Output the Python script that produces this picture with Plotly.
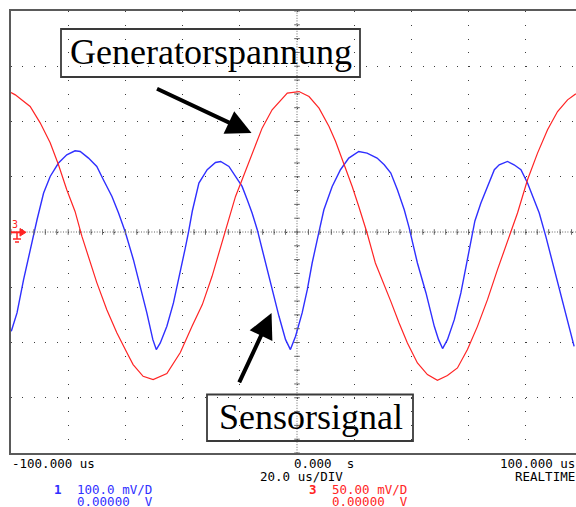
import plotly.graph_objects as go

# ---------------- data ----------------
time_red_us = [-100, -98.5, -93.3, -89.8, -86.3, -83.4, -80.5, -77.6, -75.2, -72.3,
               -70.0, -66.5, -63.0, -59.5, -57.3, -53.8, -50.3, -45.5, -40.8, -36.7,
               -33.1, -29.7, -25.0, -21.5, -19.2, -15.7, -12.2, -8.7, -3.4, 0.7,
               4.2, 7.7, 11.2, 13.5, 16.4, 19.3, 21.6, 24.5, 27.4, 30.4,
               32.8, 35.7, 38.6, 42.1, 45.6, 49.1, 52.6, 56.1, 59.6, 63.1,
               66.6, 70.1, 73.0, 75.3, 77.1, 80.6, 84.1, 87.6, 91.1, 94.6, 97.5]
generator_mv = [126.2, 124.1, 113.6, 98.8, 80.7, 60.9, 38.2, 18.6, -4.0, -27.8,
                -45.8, -70.3, -91.1, -109.1, -120.0, -130.6, -133.6, -128.1, -109.1, -85.4,
                -65.7, -40.1, 2.1, 32.2, 47.3, 71.4, 94.0, 110.6, 125.7, 127.1,
                122.6, 112.1, 95.5, 81.9, 62.4, 41.2, 23.1, -0.9, -28.0, -46.7,
                -62.8, -82.3, -100.4, -118.5, -129.0, -134.2, -129.9, -123.0, -106.4, -85.4,
                -61.2, -34.1, -13.0, 2.1, 17.2, 47.3, 71.4, 92.5, 109.0, 119.6, 125.1]

time_blue_us = [-99.9, -97.9, -95.6, -93.3, -90.9, -88.6, -86.3, -83.4, -80.5, -77.6,
                -75.8, -72.9, -70.0, -67.7, -64.7, -62.4, -60.1, -57.2, -54.8, -52.5,
                -50.4, -49.2, -47.8, -45.5, -43.2, -40.8, -39.1, -37.9, -36.6, -34.3,
                -31.4, -28.5, -26.7, -23.8, -21.5, -19.2, -17.4, -15.7, -13.9, -11.6,
                -8.7, -6.3, -4.0, -2.3, -0.5, 1.8, 3.6, 5.3, 7.7, 9.4,
                12.3, 15.2, 18.1, 21.6, 24.5, 28.0, 30.5, 32.8, 35.1, 37.5,
                39.2, 42.1, 45.1, 48.0, 49.5, 50.9, 52.6, 55.0, 57.3, 59.6,
                61.4, 62.2, 64.3, 66.6, 69.0, 70.7, 73.6, 75.9, 78.3, 80.6,
                82.9, 84.7, 87.0, 88.8, 91.1, 93.4, 95.2, 96.9]
sensor_mv = [-179.7, -146.5, -86.3, -32.0, 22.2, 70.5, 100.5, 124.8, 139.8, 147.0,
             145.8, 133.8, 118.6, 94.6, 64.4, 34.4, 1.0, -50.1, -98.4, -146.5,
             -194.8, -212.8, -200.7, -170.7, -128.4, -74.1, -30.0, 0.5, 38.0, 88.6,
             112.7, 125.9, 127.7, 118.6, 100.5, 82.5, 58.4, 34.4, 4.2, -44.1,
             -104.3, -152.6, -194.8, -212.8, -188.8, -146.5, -104.3, -56.1, 0.5, 40.3,
             82.5, 112.7, 133.8, 145.8, 142.9, 133.8, 121.7, 106.7, 76.5, 40.3,
             7.8, -56.1, -110.3, -170.7, -194.8, -211.0, -194.8, -158.6, -110.3, -50.1,
             0.5, 20.0, 52.4, 82.5, 112.7, 121.7, 127.7, 121.7, 112.7, 88.6,
             58.4, 34.4, -8.0, -44.1, -92.2, -134.5, -170.7, -206.9]

# scope settings (text shown under the screen)
time_left_label = "-100.000 us"
time_center_label = "0.000  s"
time_right_label = "100.000 us"
timebase_label = "20.0 us/DIV"
mode_label = "REALTIME"
ch1_scale_label = "100.0 mV/D"
ch3_scale_label = "50.00 mV/D"
offset_label = "0.00000  V"

# ---------------- layout geometry ----------------
W, H = 576, 507
L, T, R, B = 11, 11, 0, 54
PW, PH = W - L - R, H - T - B
DIV_PX = 57.2
X_MIN = -100.0
X_MAX = X_MIN + PW / DIV_PX * 20.0


def fx(px):
    return (px - L) / PW


def fy(py):
    return (H - B - py) / PH


BLUE = "#2f2fff"
RED = "#ff2424"
GRID = "#3c3c3c"
FRAME = "#5a5a5a"

fig = go.Figure()
fig.add_trace(go.Scatter(x=time_blue_us, y=sensor_mv, mode="lines",
                         line=dict(color=BLUE, width=1.4), yaxis="y", showlegend=False,
                         hoverinfo="skip"))
fig.add_trace(go.Scatter(x=time_red_us, y=generator_mv, mode="lines",
                         line=dict(color=RED, width=1.2), yaxis="y2", showlegend=False,
                         hoverinfo="skip"))

sub_x = DIV_PX / 5.0
sub_y = PH / 32.0

fig.update_layout(
    width=W, height=H,
    margin=dict(l=L, r=R, t=T, b=B, pad=0),
    paper_bgcolor="white", plot_bgcolor="white",
    showlegend=False,
    xaxis=dict(range=[X_MIN, X_MAX], dtick=20, tick0=0, showticklabels=False, ticks="",
               showgrid=True, gridcolor=GRID, gridwidth=1,
               griddash="1px,%.2fpx" % (sub_y - 1),
               zeroline=False, showline=True, mirror=True, linecolor=FRAME, linewidth=2),
    yaxis=dict(range=[-400, 400], dtick=100, tick0=0, showticklabels=False, ticks="",
               showgrid=True, gridcolor=GRID, gridwidth=1,
               griddash="1px,%.2fpx" % (sub_x - 1),
               zeroline=False, showline=True, linecolor=FRAME, linewidth=2),
    yaxis2=dict(range=[-200, 200], overlaying="y", showgrid=False, showticklabels=False,
                zeroline=False, ticks=""),
)

shapes = []
# center cross-hair (denser dots)
shapes.append(dict(type="line", xref="x", yref="paper", x0=0, x1=0, y0=0, y1=1,
                   line=dict(color="#666", width=1, dash="1px,1.6px"), layer="below"))
shapes.append(dict(type="line", xref="paper", yref="y", x0=0, x1=1, y0=0, y1=0,
                   line=dict(color="#666", width=1, dash="1px,1.6px"), layer="below"))

# annotation boxes
shapes.append(dict(type="rect", xref="paper", yref="paper",
                   x0=fx(61), x1=fx(360), y0=fy(29), y1=fy(77),
                   line=dict(color="#3a3a3a", width=1.8)))
shapes.append(dict(type="rect", xref="paper", yref="paper",
                   x0=fx(207), x1=fx(413), y0=fy(394.5), y1=fy(441),
                   line=dict(color="#3a3a3a", width=1.8)))

# channel / ground marker at the left edge
shapes.append(dict(type="line", xref="paper", yref="paper", x0=fx(11), x1=fx(21),
                   y0=fy(232.3), y1=fy(232.3), line=dict(color=RED, width=2)))
shapes.append(dict(type="path", xref="paper", yref="paper",
                   path="M %f %f L %f %f L %f %f Z" % (fx(20), fy(228.5), fx(26), fy(232.3), fx(20), fy(236.1)),
                   fillcolor=RED, line=dict(color=RED, width=1)))
shapes.append(dict(type="line", xref="paper", yref="paper", x0=fx(17), x1=fx(17),
                   y0=fy(233), y1=fy(239), line=dict(color=RED, width=1.5)))
shapes.append(dict(type="line", xref="paper", yref="paper", x0=fx(13), x1=fx(21),
                   y0=fy(239), y1=fy(239), line=dict(color=RED, width=1.5)))
shapes.append(dict(type="line", xref="paper", yref="paper", x0=fx(15), x1=fx(19),
                   y0=fy(242), y1=fy(242), line=dict(color=RED, width=1.5)))
fig.update_layout(shapes=shapes)

# tick marks on the centre lines
tx = [X_MIN + i * 4 for i in range(0, 50)]
fig.add_trace(go.Scatter(x=tx, y=[0] * len(tx), mode="markers",
                         marker=dict(symbol="line-ns", size=4, line=dict(color="#666", width=1)),
                         showlegend=False, hoverinfo="skip"))
ty = [-400 + i * 25 for i in range(0, 33)]
fig.add_trace(go.Scatter(x=[0] * len(ty), y=ty, mode="markers",
                         marker=dict(symbol="line-ew", size=4, line=dict(color="#666", width=1)),
                         showlegend=False, hoverinfo="skip"))

ann = []
serif = dict(family="Liberation Serif", size=36, color="black")
ann.append(dict(text="Generatorspannung", xref="paper", yref="paper",
                x=fx(210.5), y=fy(52), xanchor="center", yanchor="middle",
                showarrow=False, font=serif))
ann.append(dict(text="Sensorsignal", xref="paper", yref="paper",
                x=fx(311), y=fy(417), xanchor="center", yanchor="middle",
                showarrow=False, font=serif))
# arrows (tip in data coords, tail offset in pixels)
ann.append(dict(text="", x=-15.9, y=179, xref="x", yref="y", showarrow=True,
                ax=-96, ay=-45, arrowhead=2, arrowsize=1.25, arrowwidth=4, arrowcolor="black"))
ann.append(dict(text="", x=-8.9, y=-146.5, xref="x", yref="y", showarrow=True,
                ax=-33, ay=71, arrowhead=2, arrowsize=1.25, arrowwidth=4, arrowcolor="black"))

mono = "DejaVu Sans Mono"


def txt(s, px, py, color="black", anchor="left", bold=False, size=12.5):
    t = "<b>%s</b>" % s if bold else s
    return dict(text=t, xref="paper", yref="paper", x=fx(px), y=fy(py),
                xanchor=anchor, yanchor="middle", showarrow=False,
                font=dict(family=mono, size=size, color=color))


ann.append(txt(time_left_label, 10, 463.5))
ann.append(txt(time_center_label, 292, 463.5))
ann.append(txt(time_right_label, 577, 463.5, anchor="right"))
ann.append(txt(timebase_label, 258, 476.5))
ann.append(txt(mode_label, 577, 476.5, anchor="right"))
ann.append(txt("1", 52, 489.5, color=BLUE, bold=True))
ann.append(txt(ch1_scale_label, 75, 489.5, color=BLUE))
ann.append(txt(offset_label, 75, 501.5, color=BLUE))
ann.append(txt("3", 307, 489.5, color=RED, bold=True))
ann.append(txt(ch3_scale_label, 330, 489.5, color=RED))
ann.append(txt(offset_label, 330, 501.5, color=RED))
ann.append(dict(text="3", xref="paper", yref="paper", x=fx(15), y=fy(225),
                xanchor="center", yanchor="middle", showarrow=False,
                font=dict(family=mono, size=10, color=RED)))
fig.update_layout(annotations=ann)

fig.write_html("out.html", post_script="document.body.style.margin='0px';",
               config={"displayModeBar": False, "staticPlot": True})
